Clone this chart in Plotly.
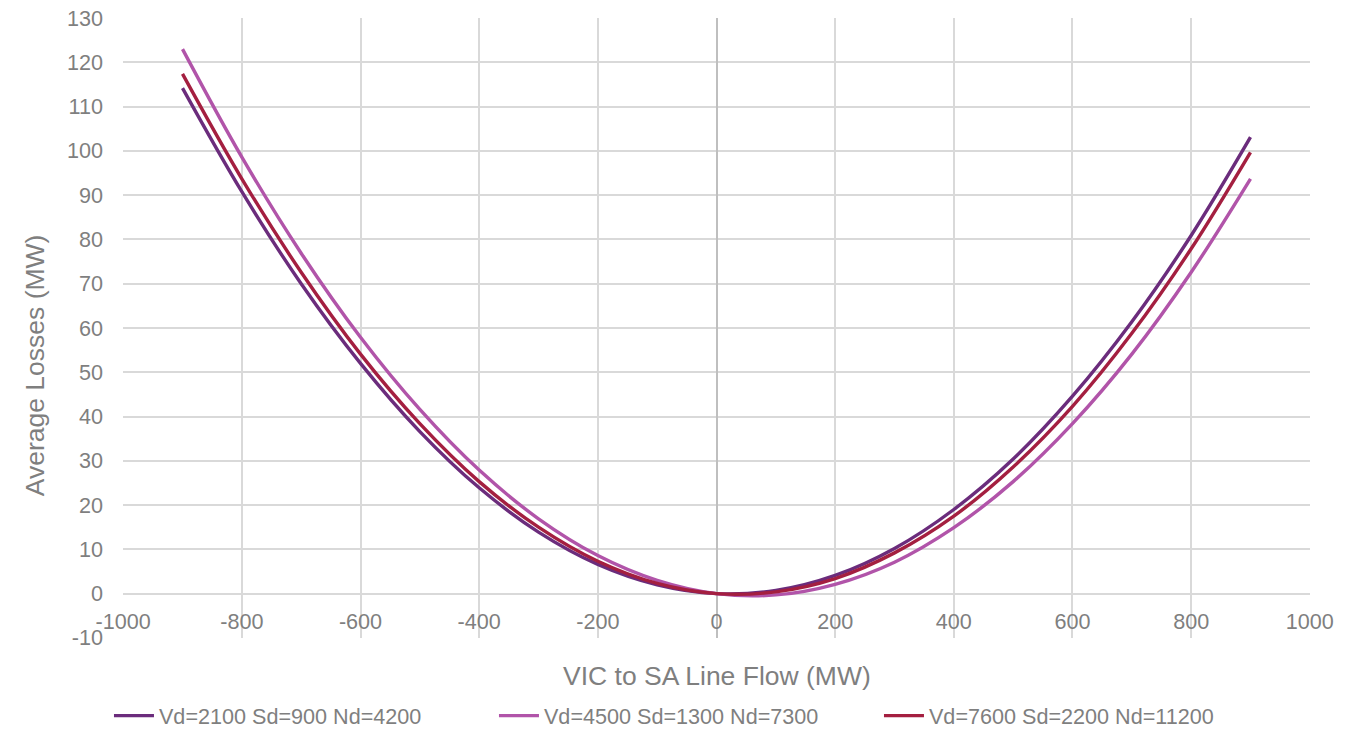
import plotly.graph_objects as go

# Data
line_flow = [-900, -800, -700, -600, -500, -400, -300, -200, -100, 0,
             100, 200, 300, 400, 500, 600, 700, 800, 900]
losses_vd2100 = [114.2, 90.8, 70.0, 52.0, 36.6, 23.9, 13.9, 6.6, 2.0, 0.0,
                 0.7, 4.1, 10.2, 19.0, 30.4, 44.6, 61.4, 80.9, 103.1]
losses_vd4500 = [123.0, 98.6, 76.9, 57.9, 41.6, 27.9, 16.9, 8.6, 3.0, 0.0,
                 -0.3, 2.1, 7.1, 14.9, 25.3, 38.4, 54.1, 72.6, 93.7]
losses_vd7600 = [117.4, 93.7, 72.6, 54.1, 38.4, 25.3, 15.0, 7.3, 2.3, 0.0,
                 0.4, 3.4, 9.2, 17.5, 28.6, 42.3, 58.8, 77.9, 99.7]
series_names = ["Vd=2100 Sd=900 Nd=4200", "Vd=4500 Sd=1300 Nd=7300",
                "Vd=7600 Sd=2200 Nd=11200"]
x_ticks = [-1000, -800, -600, -400, -200, 0, 200, 400, 600, 800, 1000]
y_ticks = list(range(-10, 131, 10))

colors = ["#6b2c7c", "#b154a9", "#a41f40"]
FONT = "Liberation Sans, Arial, sans-serif"
GRAY = "#7f7f7f"
FS = 21.6

fig = go.Figure()
for name, ys, c in zip(series_names, [losses_vd2100, losses_vd4500, losses_vd7600], colors):
    fig.add_trace(go.Scatter(x=line_flow, y=ys, mode="lines", name=name,
                             line=dict(color=c, width=3.4, shape="spline", smoothing=1.0)))

y_min, y_max = -10, 130
x_min, x_max = -1000, 1000
eps_y, eps_x = 0.03, 0.3
fig.update_layout(
    width=1343, height=723,
    margin=dict(l=115, r=41, t=10, b=93, autoexpand=False),
    paper_bgcolor="white", plot_bgcolor="white",
    font=dict(family=FONT, color=GRAY, size=FS),
    showlegend=True,
    legend=dict(orientation="h", x=0.4747, xanchor="center", y=-0.126, yanchor="middle",
                font=dict(size=FS, color=GRAY), itemwidth=40, entrywidth=330,
                tracegroupgap=0, bgcolor="rgba(0,0,0,0)"),
    xaxis=dict(range=[x_min - eps_x, x_max + eps_x], tickvals=x_ticks,
               ticktext=[str(v) for v in x_ticks],
               showgrid=True, gridcolor="#d9d9d9", gridwidth=2,
               zeroline=True, zerolinecolor="#bfbfbf", zerolinewidth=2,
               anchor="free", position=(0 - y_min + eps_y) / (y_max - y_min + 2 * eps_y),
               showline=False, ticks="", ticklabelstandoff=13, ticklabeloverflow="allow",
               tickfont=dict(size=FS, color=GRAY)),
    yaxis=dict(range=[y_min - eps_y, y_max + eps_y], tickvals=y_ticks,
               ticktext=[str(v) for v in y_ticks],
               showgrid=True, gridcolor="#d9d9d9", gridwidth=2,
               zeroline=True, zerolinecolor="#d9d9d9", zerolinewidth=2,
               showline=False, ticks="", ticklabelstandoff=19, ticklabeloverflow="allow",
               tickfont=dict(size=FS, color=GRAY)),
    annotations=[
        dict(text="VIC to SA Line Flow (MW)", xref="paper", yref="paper",
             x=0.5, y=-0.061, xanchor="center", yanchor="middle", showarrow=False,
             font=dict(size=26.5, color=GRAY, family=FONT)),
        dict(text="Average Losses (MW)", xref="paper", yref="paper",
             x=-0.0741, y=0.44, xanchor="center", yanchor="middle", showarrow=False,
             textangle=-90, font=dict(size=26.5, color=GRAY, family=FONT)),
    ],
)

fig.write_html("out.html")
